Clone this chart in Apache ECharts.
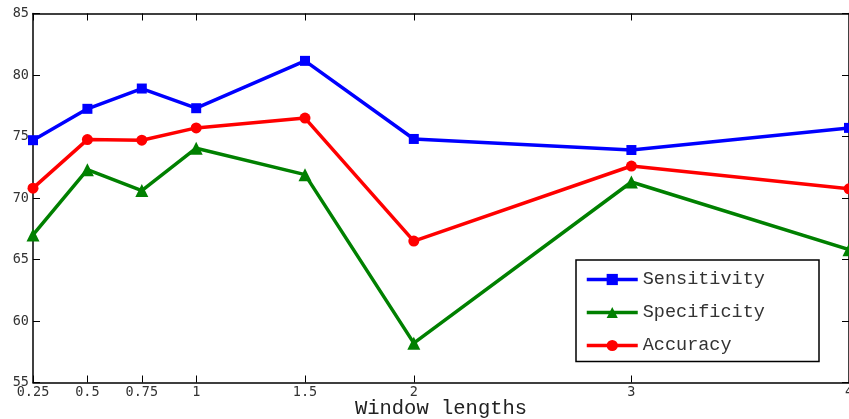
<!DOCTYPE html>
<html>
<head>
<meta charset="utf-8">
<script src="https://cdn.jsdelivr.net/npm/echarts@6/dist/echarts.min.js"></script>
<style>
  html, body { margin: 0; padding: 0; background: #fff; }
  #chart { width: 849px; height: 419px; }
</style>
</head>
<body>
<div id="chart"></div>
<script>
// Window lengths (x positions) and the three metrics measured at each one
const windowLengths = [0.25, 0.5, 0.75, 1, 1.5, 2, 3, 4];
const sensitivity = [74.7, 77.25, 78.9, 77.3, 81.15, 74.8, 73.9, 75.7];
const specificity = [67.0, 72.3, 70.6, 74.05, 71.9, 58.2, 71.3, 65.8];
const accuracy    = [70.8, 74.75, 74.7, 75.7, 76.5, 66.5, 72.6, 70.75];
const xTickValues = [0.25, 0.5, 0.75, 1, 1.5, 2, 3, 4];
const yTickValues = [55, 60, 65, 70, 75, 80, 85];

const pairs = (ys) => windowLengths.map((x, i) => [x, ys[i]]);

const tickFont = { fontFamily: 'DejaVu Sans Mono', fontSize: 13.5, color: '#333' };
const frameLine = { show: true, lineStyle: { color: '#000', width: 1.5 } };
const inTick = { show: true, inside: true, length: 7, lineStyle: { color: '#000', width: 1 } };

const chart = echarts.init(document.getElementById('chart'), null, { renderer: 'canvas' });

function lineSeries(name, ys, color, symbol, size) {
  return {
    name, type: 'line', data: pairs(ys),
    symbol, symbolSize: size,
    lineStyle: { color, width: 3.5 },
    itemStyle: { color, borderColor: color, borderWidth: 0 },
    emphasis: { disabled: true },
    animation: false, clip: false, z: 3
  };
}

chart.setOption({
  backgroundColor: '#fff',
  animation: false,
  grid: { left: 33, right: 0, top: 13.5, bottom: 36.5, containLabel: false, outerBoundsMode: 'none' },
  xAxis: [{
    type: 'value', min: 0.25, max: 4,
    position: 'bottom',
    axisLine: frameLine,
    axisTick: Object.assign({ customValues: xTickValues }, inTick),
    axisLabel: Object.assign({ customValues: xTickValues, margin: 3, formatter: v => String(v) }, tickFont),
    splitLine: { show: false },
    name: 'Window lengths', nameLocation: 'middle', nameGap: 16, nameMoveOverlap: false,
    nameTextStyle: { fontFamily: 'Liberation Mono', fontSize: 20.5, color: '#222' }
  }, {
    type: 'value', min: 0.25, max: 4,
    position: 'top',
    axisLine: frameLine,
    axisTick: Object.assign({ customValues: xTickValues }, inTick),
    axisLabel: { show: false },
    splitLine: { show: false }
  }],
  yAxis: [{
    type: 'value', min: 55, max: 85, interval: 5,
    position: 'left',
    axisLine: frameLine,
    axisTick: Object.assign({ customValues: yTickValues }, inTick),
    axisLabel: Object.assign({ margin: 4 }, tickFont),
    splitLine: { show: false }
  }, {
    type: 'value', min: 55, max: 85, interval: 5,
    position: 'right',
    axisLine: frameLine,
    axisTick: Object.assign({ customValues: yTickValues }, inTick),
    axisLabel: { show: false },
    splitLine: { show: false }
  }],
  legend: {
    orient: 'vertical', left: 585, top: 270, padding: 0,
    itemWidth: 51, itemHeight: 14, itemGap: 14,
    lineStyle: { width: 3.5 },
    textStyle: { fontFamily: 'Liberation Mono', fontSize: 18.5, lineHeight: 18, color: '#333' },
    selectedMode: false,
    data: ['Sensitivity', 'Specificity', 'Accuracy']
  },
  graphic: [{
    type: 'rect', z: 1,
    shape: { x: 576, y: 260, width: 243, height: 101.5 },
    style: { fill: '#fff', stroke: '#000', lineWidth: 1.5 }
  }],
  series: [
    lineSeries('Sensitivity', sensitivity, '#0000ff', 'rect', 10),
    lineSeries('Specificity', specificity, '#008000', 'triangle', 13),
    lineSeries('Accuracy', accuracy, '#ff0000', 'circle', 11)
  ]
});
</script>
</body>
</html>
